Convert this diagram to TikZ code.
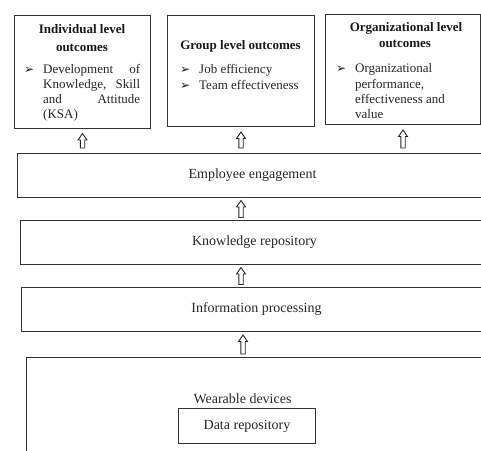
\documentclass[tikz,border=0pt]{standalone}
\usepackage{fontspec}
\setmainfont{Liberation Serif}
\newfontfamily\symf{DejaVu Sans}
\usetikzlibrary{calc}
\begin{document}
\begin{tikzpicture}[x=1pt,y=-1pt,
  box/.style={draw=black!80, line width=1pt, inner sep=0pt},
  txt/.style={inner sep=0pt, text=black!85, font=\fontsize{13}{15}\selectfont},
  ttl/.style={inner sep=0pt, text=black!90, font=\fontsize{13}{15}\selectfont\bfseries},
  mid/.style={box, text=black!85, font=\fontsize{14}{16}\selectfont},
  bul/.style={inner sep=0pt, text=black!90, font=\fontsize{12}{14}\symf},
  hollow/.style={draw=black!85, line width=0.9pt, fill=white, line join=miter,
    to path={let \p1=(\tikztostart), \p2=(\tikztotarget) in
      (\x1-2.2pt,\y1+#1) -- (\x1+2.2pt,\y1+#1) -- (\x1+2.2pt,\y2-#1-6.5pt)
      -- (\x1+4.5pt,\y2-#1-6.5pt) -- (\x1,\y2-#1) -- (\x1-4.5pt,\y2-#1-6.5pt)
      -- (\x1-2.2pt,\y2-#1-6.5pt) -- cycle}},
  hollow/.default=3pt
]
\useasboundingbox (0,0) rectangle (481,450);
\clip (0,0) rectangle (481,450);

% top outcome boxes
\node[box, minimum width=136, minimum height=113, anchor=north west] (ind) at (14,14.5) {};
\node[box, minimum width=147, minimum height=111, anchor=north west] (grp) at (167,15) {};
\node[box, minimum width=155, minimum height=110, anchor=north west] (org) at (325,14) {};

% individual text
\node[ttl, anchor=base] (t1a) at (82,33) {Individual level};
\node[ttl, anchor=base] (t1b) at (82,51) {outcomes};
\node[bul, anchor=base west] (b1) at (24,73) {➢};
\node[txt, anchor=base west] (l1a) at (43,73) {\makebox[97pt][s]{Development of}};
\node[txt, anchor=base west] (l1b) at (43,88) {\makebox[97pt][s]{Knowledge, Skill}};
\node[txt, anchor=base west] (l1c) at (43,103) {\makebox[97pt][s]{and Attitude}};
\node[txt, anchor=base west] (l1d) at (43,118) {(KSA)};

% group text
\node[ttl, anchor=base] (t2a) at (240.5,49) {Group level outcomes};
\node[bul, anchor=base west] (b2a) at (180,73) {➢};
\node[txt, anchor=base west] (l2a) at (199,73) {Job efficiency};
\node[bul, anchor=base west] (b2b) at (180,89) {➢};
\node[txt, anchor=base west] (l2b) at (199,89) {Team effectiveness};

% organizational text
\node[ttl, anchor=base] (t3a) at (406,31) {Organizational level};
\node[ttl, anchor=base] (t3b) at (405,47) {outcomes};
\node[bul, anchor=base west] (b3) at (336,72) {➢};
\node[txt, anchor=base west] (l3a) at (355,72) {Organizational};
\node[txt, anchor=base west] (l3b) at (355,88) {performance,};
\node[txt, anchor=base west] (l3c) at (355,103) {effectiveness and};
\node[txt, anchor=base west] (l3d) at (355,118) {value};

% middle layers
\node[mid, minimum width=470, minimum height=44, anchor=north west] (ee) at (17,153) {Employee engagement};
\node[mid, minimum width=468, minimum height=44, anchor=north west] (kr) at (20,220) {Knowledge repository};
\node[mid, minimum width=470, minimum height=44, anchor=north west] (ip) at (21,287) {Information processing};

% bottom layer
\node[box, minimum width=470, minimum height=120, anchor=north west] (wd) at (26,357) {};
\node[inner sep=0pt, text=black!85, font=\fontsize{14}{16}\selectfont, anchor=base] (wdl) at (242.5,403) {Wearable devices};
\node[mid, minimum width=137, minimum height=35, anchor=north west] (dr) at (178,408) {Data repository};

% arrows
\coordinate (ax) at (241,0);
\draw[hollow=5pt] (ee.north -| ind.south) to (ind.south);
\draw[hollow=5pt] (ee.north -| grp.south) to (grp.south);
\draw[hollow=5pt] (ee.north -| org.south) to (org.south);
\draw[hollow=2.5pt] (kr.north -| ax) to (ee.south -| ax);
\draw[hollow=2.5pt] (ip.north -| ax) to (kr.south -| ax);
\draw[hollow=3pt] (wd.north -| 243,0) to (ip.south -| 243,0);
\end{tikzpicture}
\end{document}
